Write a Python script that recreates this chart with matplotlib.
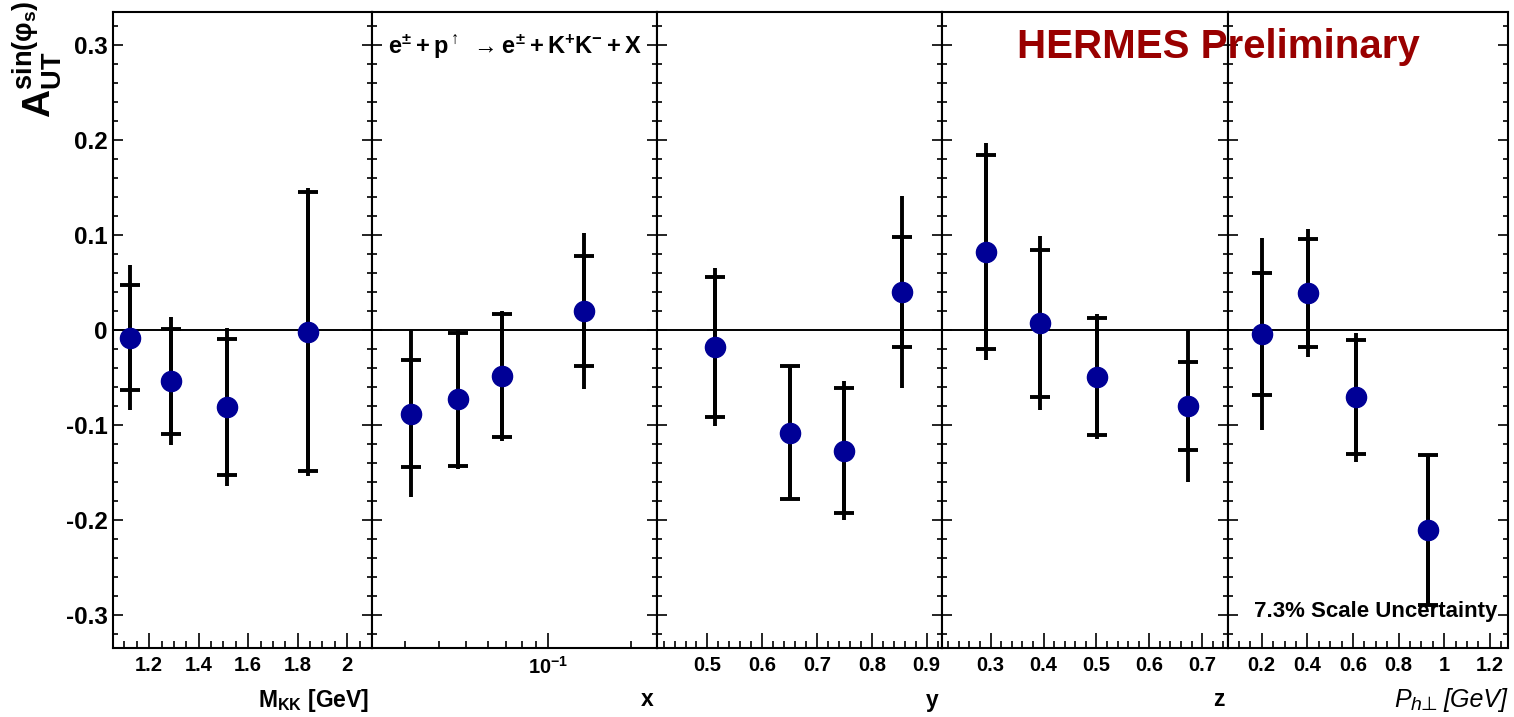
import numpy as np
import matplotlib
matplotlib.use('Agg')
import matplotlib.pyplot as plt
from matplotlib.ticker import (MultipleLocator, FixedLocator, FixedFormatter,
                               FuncFormatter, LogLocator, NullFormatter)

# ---- data: value, stat error (caps), total error (bar) ----
x_mkk = [1.122, 1.29, 1.514, 1.84]
a_mkk = [-0.008, -0.054, -0.081, -0.002]
stat_mkk = [0.055, 0.0555, 0.0715, 0.147]
tot_mkk = [0.076, 0.0675, 0.083, 0.152]

x_x = [0.0316, 0.0467, 0.0677, 0.1346]
a_x = [-0.088, -0.073, -0.048, 0.020]
stat_x = [0.0565, 0.070, 0.065, 0.058]
tot_x = [0.088, 0.0735, 0.0685, 0.082]

x_y = [0.513, 0.651, 0.749, 0.855]
a_y = [-0.018, -0.108, -0.127, 0.040]
stat_y = [0.074, 0.0705, 0.066, 0.058]
tot_y = [0.083, 0.0705, 0.0735, 0.101]

x_z = [0.292, 0.394, 0.5015, 0.674]
a_z = [0.0825, 0.007, -0.049, -0.080]
stat_z = [0.102, 0.0775, 0.062, 0.0465]
tot_z = [0.114, 0.0915, 0.066, 0.080]

x_pt = [0.20, 0.403, 0.612, 0.928]
a_pt = [-0.004, 0.0386, -0.071, -0.2105]
stat_pt = [0.064, 0.057, 0.060, 0.079]
tot_pt = [0.101, 0.0675, 0.068, 0.079]

y_ticks = [-0.3, -0.2, -0.1, 0, 0.1, 0.2, 0.3]
x_labels = [r'$M_{KK}$ [GeV]', 'x', 'y', 'z']

plt.rcParams['font.family'] = ['Liberation Sans', 'DejaVu Sans']
plt.rcParams['font.weight'] = 'bold'
plt.rcParams['mathtext.fontset'] = 'custom'
plt.rcParams['mathtext.rm'] = 'Liberation Sans:bold'
plt.rcParams['mathtext.it'] = 'Liberation Sans:bold'
plt.rcParams['mathtext.bf'] = 'Liberation Sans:bold'
plt.rcParams['mathtext.sf'] = 'Liberation Sans:bold'
plt.rcParams['mathtext.default'] = 'regular'

W, H = 1514, 717
fig = plt.figure(figsize=(W / 100, H / 100), dpi=100)

edges = [113, 372, 657, 942, 1228, 1508]
top, bot = 12, 648
xlims = [(1.054, 2.10), (0.0227, 0.249), (0.408, 0.928), (0.208, 0.749), (0.052, 1.28)]
steps = [(0.2, 0.05), None, (0.1, 0.02), (0.1, 0.02), (0.2, 0.05)]
panels = [(x_mkk, a_mkk, stat_mkk, tot_mkk), (x_x, a_x, stat_x, tot_x),
          (x_y, a_y, stat_y, tot_y), (x_z, a_z, stat_z, tot_z),
          (x_pt, a_pt, stat_pt, tot_pt)]

fmt_g = FuncFormatter(lambda v, p: '%g' % round(v, 6))

for i, (xs, a, st, tt) in enumerate(panels):
    ax = fig.add_axes([edges[i] / W, 1 - bot / H, (edges[i + 1] - edges[i]) / W, (bot - top) / H])
    for s in ax.spines.values():
        s.set_linewidth(1.5)
    ax.axhline(0, color='k', lw=1.4, zorder=1)
    ax.errorbar(xs, a, yerr=tt, fmt='none', ecolor='k', elinewidth=2.8, capsize=0, zorder=2)
    ax.errorbar(xs, a, yerr=st, fmt='none', ecolor='k', elinewidth=2.8,
                capsize=7, capthick=2.8, zorder=2)
    ax.plot(xs, a, 'o', color='#000096', ms=14.5, mec='#000096', zorder=5)

    ax.set_ylim(-0.335, 0.335)
    ax.yaxis.set_major_locator(FixedLocator(y_ticks))
    ax.yaxis.set_minor_locator(MultipleLocator(0.02))
    ax.yaxis.set_major_formatter(fmt_g)
    ax.tick_params(axis='y', which='both', direction='in', left=True, right=True,
                   labelleft=(i == 0), width=1.2, labelsize=17.5, pad=4)
    ax.tick_params(axis='y', which='major', length=7)
    ax.tick_params(axis='y', which='minor', length=3.6)

    if steps[i] is None:
        ax.set_xscale('log')
        ax.xaxis.set_major_locator(FixedLocator([0.1]))
        ax.xaxis.set_major_formatter(FixedFormatter([r'$10^{-1}$']))
        ax.xaxis.set_minor_locator(LogLocator(base=10, subs=np.arange(2, 10)))
        ax.xaxis.set_minor_formatter(NullFormatter())
    else:
        ax.xaxis.set_major_locator(MultipleLocator(steps[i][0]))
        ax.xaxis.set_minor_locator(MultipleLocator(steps[i][1]))
        ax.xaxis.set_major_formatter(fmt_g)
    ax.set_xlim(*xlims[i])
    ax.tick_params(axis='x', which='both', direction='in', top=False, width=1.2,
                   labelsize=14.5, pad=6)
    ax.tick_params(axis='x', which='major', length=10.8)
    ax.tick_params(axis='x', which='minor', length=5)

    if i < 4:
        fig.text((edges[i + 1] - 3) / W, 1 - 700 / H, x_labels[i],
                 ha='right', va='center', fontsize=16.5)

# P_h-perp [GeV] label in plain italic, built from pieces
it_font = dict(style='italic', weight='normal', family=['Liberation Sans', 'DejaVu Sans'])
fig.text(1394 / W, 1 - 700 / H, 'P', ha='left', va='center', fontsize=18, **it_font)
fig.text(1411 / W, 1 - 706 / H, 'h\u22a5', ha='left', va='center', fontsize=14, **it_font)
fig.text(1507 / W, 1 - 700 / H, '[GeV]', ha='right', va='center', fontsize=18, **it_font)

fig.text(37 / W, 1 - 1 / H, r'$A_{UT}^{sin(\varphi_{s})}$', rotation=90, ha='center', va='top', fontsize=28)

fig.text(388 / W, 1 - 47 / H, r'$e^{\pm} + p^{\uparrow}\ \rightarrow e^{\pm} + K^{+}K^{-} + X$',
         ha='left', va='center', fontsize=17)
fig.text(1218 / W, 1 - 47 / H, 'HERMES Preliminary', color='#990000', fontsize=29,
         ha='center', va='center')
fig.text(1497 / W, 1 - 612 / H, '7.3% Scale Uncertainty', ha='right', va='center', fontsize=16)

fig.savefig('out.png', dpi=100)
